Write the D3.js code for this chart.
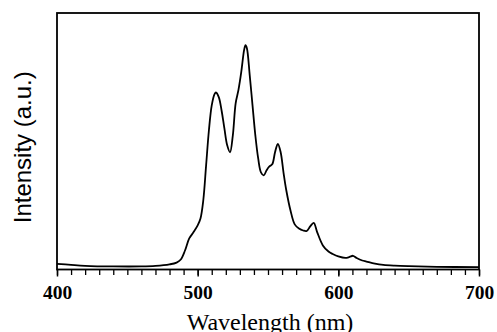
<!DOCTYPE html>
<html>
<head>
<meta charset="utf-8">
<script src="https://cdn.jsdelivr.net/npm/d3@7"></script>
<style>
  body { margin: 0; background: #fff; }
  svg { display: block; }
</style>
</head>
<body>
<script>
// emission spectrum
let wavelength = [400, 410, 420, 440, 460, 470, 480, 485, 488, 491, 494, 497, 500, 502, 504, 506, 508, 510, 512, 513, 515, 517, 519, 521, 523, 525, 527, 529, 531, 533, 534, 535, 537, 539, 541, 543, 545, 547, 549, 551, 553, 555, 557, 559, 561, 563, 566, 569, 572, 575, 577.5, 580, 582.5, 585, 589, 593, 596, 600, 605, 608, 610.5, 613, 617, 620, 626, 632, 640, 650, 670, 700];
let intensity = [2.2, 1.8, 1.45, 1.2, 1.2, 1.4, 2.0, 2.7, 3.9, 7.4, 12.1, 14.5, 17.2, 19.9, 27, 40.6, 54.3, 64, 68.4, 69, 67.2, 62, 55, 48.4, 45.7, 52.3, 64.8, 70, 77, 85.5, 87.5, 86.3, 75.8, 64, 52.3, 43.4, 37.9, 36.7, 38.7, 40.2, 41, 45.7, 49, 45.7, 37.9, 30.9, 23, 17.6, 16, 15.2, 15, 16.8, 18.2, 14.5, 9.4, 7, 6.05, 5.1, 4.5, 4.9, 5.35, 4.5, 3.5, 3.1, 2.3, 1.8, 1.5, 1.3, 1.05, 0.9];
let majorTicks = [400, 500, 600, 700];

let width = 497;
let height = 332;
let x0 = 57, x1 = 479, y0 = 13, y1 = 269.5;

let x = d3.scaleLinear().domain([400, 700]).range([x0, x1]);
let y = d3.scaleLinear().domain([0, 100]).range([y1, y0]);

let svg = d3.select("body")
    .append("svg")
    .attr("width", width)
    .attr("height", height);

// minor ticks every 10 nm
let minorAxis = d3.axisBottom(x)
    .tickValues(d3.range(400, 701, 10))
    .tickSize(5.5)
    .tickFormat("");
svg.append("g")
    .attr("transform", `translate(0, ${y1})`)
    .call(minorAxis)
    .call(g => g.select(".domain").remove())
    .call(g => g.selectAll("line").attr("stroke", "#000").attr("stroke-width", 1.3));

let majorAxis = d3.axisBottom(x)
    .tickValues(majorTicks)
    .tickSize(7)
    .tickPadding(9)
    .tickFormat(d3.format("d"));
svg.append("g")
    .attr("transform", `translate(0, ${y1})`)
    .call(majorAxis)
    .call(g => g.select(".domain").remove())
    .call(g => g.selectAll("line").attr("stroke", "#000").attr("stroke-width", 1.5))
    .call(g => g.selectAll("text")
        .attr("font-family", "'Liberation Serif', 'Times New Roman', serif")
        .attr("font-weight", "bold")
        .attr("font-size", 19.5)
        .attr("fill", "#000"));

// frame
svg.append("rect")
    .attr("x", x0)
    .attr("y", y0)
    .attr("width", x1 - x0)
    .attr("height", y1 - y0)
    .attr("fill", "none")
    .attr("stroke", "#000")
    .attr("stroke-width", 1.8);

let line = d3.line()
    .x((d, i) => x(wavelength[i]))
    .y(d => y(d))
    .curve(d3.curveCatmullRom.alpha(0.5));

svg.append("path")
    .datum(intensity)
    .attr("d", line)
    .attr("fill", "none")
    .attr("stroke", "#000")
    .attr("stroke-width", 1.8)
    .attr("stroke-linejoin", "round");

svg.append("text")
    .attr("x", 270)
    .attr("y", 330)
    .attr("text-anchor", "middle")
    .attr("font-family", "'Liberation Serif', 'Times New Roman', serif")
    .attr("font-size", 24)
    .text("Wavelength (nm)");

svg.append("text")
    .attr("transform", `translate(31, ${(y0 + y1) / 2 + 6}) rotate(-90)`)
    .attr("text-anchor", "middle")
    .attr("font-family", "'Liberation Sans', Arial, sans-serif")
    .attr("font-size", 24)
    .text("Intensity (a.u.)");
</script>
</body>
</html>
